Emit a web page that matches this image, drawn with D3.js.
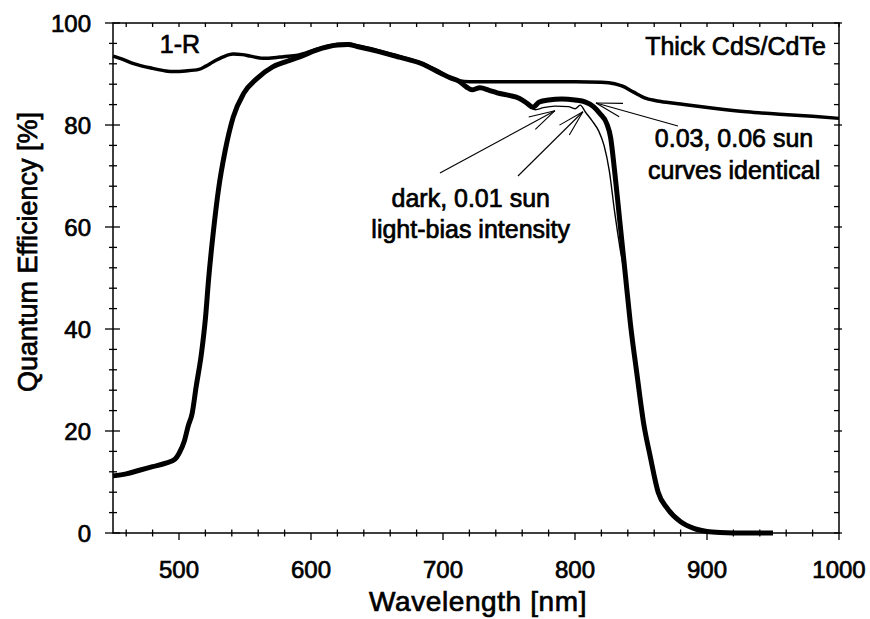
<!DOCTYPE html>
<html>
<head>
<meta charset="utf-8">
<script src="https://cdnjs.cloudflare.com/ajax/libs/d3/7.8.5/d3.min.js"></script>
<style>
  body { margin: 0; background: #fff; }
  text { font-family: "Liberation Sans", Arial, sans-serif; fill: #000; stroke: #000; stroke-width: 0.7px; }
</style>
</head>
<body>
<svg width="870" height="619"></svg>
<script>
// wavelength grid + QE for the 0.03 / 0.06 sun light bias (identical curves)
const qeWl = [450,460,470,480,490,497,500,504,507,510,513,517,520,522.5,526,530,535,541,549,559,571,582,592,604,620,628,635,650,667,683,698,705,712,718,722,728,735,741,750,758,764,768,773,780,790,800,808,814,819,824,827,830,834,838,842,847,852,857,863,870,880,890,900,910,930,950];
const qeLight = [11.2,11.6,12.3,13.0,13.7,14.5,15.6,18,21,23.5,28.7,35.2,42,50,59,67.5,75,81.5,86.2,89.1,91.4,92.5,93.4,94.7,95.7,95.8,95.4,94.5,93.3,92.1,90.2,89.3,88.6,87.4,86.9,87.3,86.8,86.3,85.8,85.2,84.2,83.5,84.5,84.9,85.1,84.9,84.5,83.6,82.2,80.3,77.5,71,61,51,41,31,21.5,15,8,4.8,2.2,0.9,0.3,0.1,0,0];

// dark / 0.01 sun curve, only where it leaves the others
const darkWl = [755,760,765,770,776,785,795,800,804,808,813,818,822,826,830,834,838,842,847,852,857,863,870,880,890,900,910,930,950];
const qeDark = [85.5,85.0,84.0,83.0,83.4,83.7,83.6,83.2,83.9,82.5,80.8,78.8,76,71,63,56,50,41,31,21.5,15,8,4.8,2.2,0.9,0.3,0.1,0,0];

// 1-R
const rWl = [450,458,465,480,490,496,505,515,520,526,533,541,548,554,564,572,579,590,604,620,628,635,650,667,683,698,705,712,720,740,760,780,800,820,830,836,844,854,865,880,905,930,955,980,1000];
const oneMinusR = [93.5,92.8,92.1,91.1,90.6,90.5,90.6,90.9,91.5,92.4,93.3,93.9,93.8,93.5,93.1,93.2,93.4,93.7,94.8,95.8,95.9,95.5,94.6,93.4,92.2,90.3,89.3,88.7,88.5,88.5,88.5,88.5,88.5,88.4,88.1,87.6,86.5,85.2,84.6,84.1,83.3,82.6,82.1,81.7,81.3];

const xTickLabels = [500,600,700,800,900,1000];
const yTickLabels = [0,20,40,60,80,100];

var svg = d3.select("svg"),
    margin = {top: 23, right: 31, bottom: 86, left: 113},
    width = +svg.attr("width") - margin.left - margin.right,
    height = +svg.attr("height") - margin.top - margin.bottom;

var g = svg.append("g").attr("transform", "translate(" + margin.left + "," + margin.top + ")");

var x = d3.scaleLinear().domain([450, 1000]).range([0, width]);
var y = d3.scaleLinear().domain([0, 100]).range([height, 0]);

// frame
g.append("rect")
  .attr("width", width).attr("height", height)
  .attr("fill", "none").attr("stroke", "#000").attr("stroke-width", 1.5);

var xMinor = d3.range(460, 1001, 20);
var yMinor = d3.range(0, 101, 4);

// bottom ticks (minor cross the axis, majors hang below)
g.selectAll(".xt").data(xMinor).enter().append("line")
  .attr("x1", d => x(d)).attr("x2", d => x(d))
  .attr("y1", d => height - (d % 100 === 0 ? 0 : 3.5)).attr("y2", d => height + (d % 100 === 0 ? 7 : 3.5))
  .attr("stroke", "#000").attr("stroke-width", 1.3);
// top ticks
g.selectAll(".xtt").data(xMinor).enter().append("line")
  .attr("x1", d => x(d)).attr("x2", d => x(d))
  .attr("y1", 0).attr("y2", 4)
  .attr("stroke", "#000").attr("stroke-width", 1.3);
// left ticks
g.selectAll(".yt").data(yMinor).enter().append("line")
  .attr("y1", d => y(d)).attr("y2", d => y(d))
  .attr("x1", d => (d % 20 === 0 ? -8 : -4)).attr("x2", d => (d % 20 === 0 ? 7 : 4))
  .attr("stroke", "#000").attr("stroke-width", 1.3);
// right ticks
g.selectAll(".ytr").data(yMinor).enter().append("line")
  .attr("y1", d => y(d)).attr("y2", d => y(d))
  .attr("x1", width - 5).attr("x2", d => width + (d % 20 === 0 ? 3 : 0))
  .attr("stroke", "#000").attr("stroke-width", 1.3);

// tick labels
g.selectAll(".xl").data(xTickLabels).enter().append("text")
  .attr("x", d => x(d)).attr("y", height + 45)
  .attr("text-anchor", "middle").style("font-size", "24px")
  .text(d => d);
g.selectAll(".yl").data(yTickLabels).enter().append("text")
  .attr("x", -22).attr("y", d => y(d)).attr("dy", "0.36em")
  .attr("text-anchor", "end").style("font-size", "24px")
  .text(d => d);

// axis titles
svg.append("text")
  .attr("x", 478).attr("y", 611)
  .attr("text-anchor", "middle").style("font-size", "28px").style("letter-spacing", "0.6px")
  .text("Wavelength [nm]");
svg.append("text")
  .attr("transform", "translate(37,252) rotate(-90)")
  .attr("text-anchor", "middle").style("font-size", "27px")
  .text("Quantum Efficiency [%]");

// curves
var line = d3.line().curve(d3.curveMonotoneX)
  .x(d => x(d[0])).y(d => y(d[1]));

g.append("path")
  .attr("d", line(d3.zip(rWl, oneMinusR)))
  .attr("fill", "none").attr("stroke", "#000").attr("stroke-width", 3.5)
  .attr("stroke-linejoin", "round");

g.append("path")
  .attr("d", line(d3.zip(darkWl, qeDark)))
  .attr("fill", "none").attr("stroke", "#000").attr("stroke-width", 1.4);

g.append("path")
  .attr("d", line(d3.zip(qeWl, qeLight)))
  .attr("fill", "none").attr("stroke", "#000").attr("stroke-width", 5)
  .attr("stroke-linejoin", "round");

// annotations
function note(tx, ty, anchor, str) {
  g.append("text")
    .attr("x", x(tx)).attr("y", y(ty))
    .attr("text-anchor", anchor).style("font-size", "25px")
    .text(str);
}
note(485.5, 94.2, "start", "1-R");
note(990, 93.8, "end", "Thick CdS/CdTe");
note(920.5, 75.6, "middle", "0.03, 0.06 sun");
note(920.5, 69.4, "middle", "curves identical");
note(721, 63.9, "middle", "dark, 0.01 sun");
note(721, 57.8, "middle", "light-bias intensity");

// arrows: [tail nm, tail %, head nm, head %]
const arrows = [[697.7, 70.6, 784.8, 82.8], [756.8, 70.0, 806, 82.6], [878, 79.8, 815.9, 84.3]];
arrows.forEach(function(a) {
  var x1 = x(a[0]), y1 = y(a[1]), x2 = x(a[2]), y2 = y(a[3]);
  var ang = Math.atan2(y2 - y1, x2 - x1), len = 27, spread = 15 * Math.PI / 180;
  g.append("line").attr("x1", x1).attr("y1", y1).attr("x2", x2).attr("y2", y2)
    .attr("stroke", "#000").attr("stroke-width", 1.1);
  [-spread, spread].forEach(function(s) {
    g.append("line").attr("x1", x2).attr("y1", y2)
      .attr("x2", x2 - len * Math.cos(ang + s)).attr("y2", y2 - len * Math.sin(ang + s))
      .attr("stroke", "#000").attr("stroke-width", 1.1);
  });
});
</script>
</body>
</html>
